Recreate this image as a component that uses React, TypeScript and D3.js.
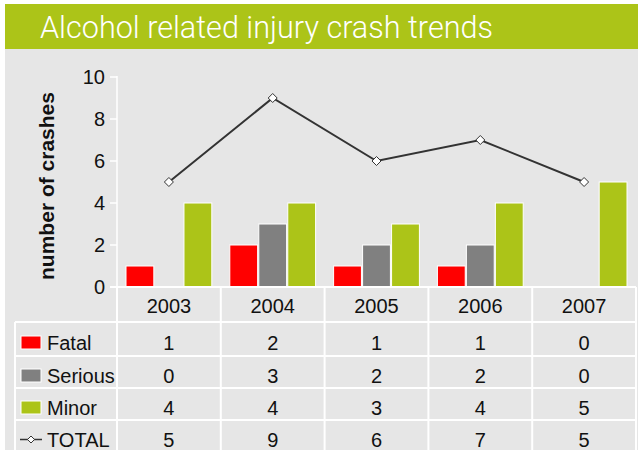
import React from "react";
import * as d3 from "d3";

const years = ["2003", "2004", "2005", "2006", "2007"];
const fatal = [1, 2, 1, 1, 0];
const serious = [0, 3, 2, 2, 0];
const minor = [4, 4, 3, 4, 5];
const total = [5, 9, 6, 7, 5];
const yTicks = [0, 2, 4, 6, 8, 10];
const seriesNames = ["Fatal", "Serious", "Minor"];
const seriesColors = ["#FF0000", "#808080", "#ACC418"];

const W = 638, H = 450;
const FONT = "Liberation Sans, Arial, sans-serif";

export default function App() {
  const x = d3.scaleBand<string>().domain(years).range([117, 636]).paddingInner(0).paddingOuter(0);
  const y = d3.scaleLinear().domain([0, 10]).range([287, 77]);
  const series = [fatal, serious, minor];
  const sub = d3.scaleBand<number>().domain([0, 1, 2]).range([9, x.bandwidth() - 9]).paddingInner(0.04);
  const line = d3.line<number>().x((_, i) => (x(years[i]) as number) + x.bandwidth() / 2).y((d) => y(d));

  const rowTops = [287, 322, 356, 388, 420];
  const rowBottom = 455;
  const rowCenters = rowTops.map((t, i) => (t + (rowTops[i + 1] ?? 452)) / 2);
  const textY = rowCenters.map((c, i) => c + (i === 0 ? 1.5 : 3.5));
  const tableLeft = 15;
  const diamond = (cx: number, cy: number, r = 4) => `M${cx},${cy - r}L${cx + r},${cy}L${cx},${cy + r}L${cx - r},${cy}Z`;

  return (
    <svg width={W} height={H} style={{ position: "absolute", left: 0, top: 0 }} fontFamily={FONT}>
      <rect x={5} y={49} width={W - 5} height={H - 49} fill="#E6E6E6" />
      <rect x={5} y={4} width={W - 5} height={45} fill="#ACC418" />
      <text x={40} y={38} fill="#fff" fontSize={31} fontFamily="Roboto, Liberation Sans, Arial" fontWeight={300} textLength={453} lengthAdjust="spacingAndGlyphs">Alcohol related injury crash trends</text>

      {/* y axis */}
      <line x1={117} x2={117} y1={y(10) - 1} y2={287} stroke="#fff" strokeWidth={1.5} />
      {yTicks.map((t) => (
        <g key={t}>
          <line x1={110} x2={117} y1={y(t)} y2={y(t)} stroke="#fff" strokeWidth={1.5} />
          <text x={105} y={y(t)} dy="0.36em" textAnchor="end" fontSize={20} fill="#111">{t}</text>
        </g>
      ))}
      <text transform={`translate(54,186) rotate(-90)`} textAnchor="middle" fontSize={21} fontWeight="bold" fill="#111">number of crashes</text>

      {/* bars */}
      {years.map((yr, i) => (
        <g key={yr}>
          {series.map((s, k) => s[i] > 0 ? (
            <rect key={k} x={(x(yr) as number) + (sub(k) as number)} width={sub.bandwidth()} y={y(s[i])} height={287 - y(s[i])} fill={seriesColors[k]} stroke="#fff" strokeWidth={1} />
          ) : null)}
        </g>
      ))}

      {/* total line */}
      <path d={line(total) as string} fill="none" stroke="#333" strokeWidth={2} />
      {total.map((v, i) => (
        <path key={i} d={diamond((x(years[i]) as number) + x.bandwidth() / 2, y(v), 4.5)} fill="#fff" stroke="#333" strokeWidth={1} />
      ))}

      {/* table grid */}
      <line x1={110} x2={636} y1={287} y2={287} stroke="#fff" strokeWidth={2} />
      {years.map((yr) => (
        <line key={yr} x1={x(yr) as number} x2={x(yr) as number} y1={287} y2={rowBottom} stroke="#fff" strokeWidth={2} />
      ))}
      <line x1={636} x2={636} y1={287} y2={rowBottom} stroke="#fff" strokeWidth={2} />
      <line x1={tableLeft} x2={tableLeft} y1={322} y2={rowBottom} stroke="#fff" strokeWidth={2} />
      {rowTops.slice(1).map((t) => (
        <line key={t} x1={tableLeft} x2={636} y1={t} y2={t} stroke="#fff" strokeWidth={2} />
      ))}

      {years.map((yr) => (
        <text key={yr} x={(x(yr) as number) + x.bandwidth() / 2} y={textY[0]} dy="0.36em" textAnchor="middle" fontSize={20} fill="#111">{yr}</text>
      ))}
      {[...series, total].map((s, r) => (
        <g key={r}>
          {s.map((v, i) => (
            <text key={i} x={(x(years[i]) as number) + x.bandwidth() / 2} y={textY[r + 1]} dy="0.36em" textAnchor="middle" fontSize={20} fill="#111">{v}</text>
          ))}
        </g>
      ))}

      {/* legend keys */}
      {seriesNames.map((n, k) => (
        <g key={n}>
          <rect x={21} y={textY[k + 1] - 6.5} width={20} height={13} fill={seriesColors[k]} stroke="#fff" strokeWidth={1} />
          <text x={47} y={textY[k + 1]} dy="0.36em" fontSize={20} fill="#111">{n}</text>
        </g>
      ))}
      <line x1={20} x2={42} y1={textY[4]} y2={textY[4]} stroke="#333" strokeWidth={1.5} />
      <path d={diamond(31, textY[4], 3.5)} fill="#fff" stroke="#333" strokeWidth={1} />
      <text x={47} y={textY[4]} dy="0.36em" fontSize={20} fill="#111">TOTAL</text>
    </svg>
  );
}
